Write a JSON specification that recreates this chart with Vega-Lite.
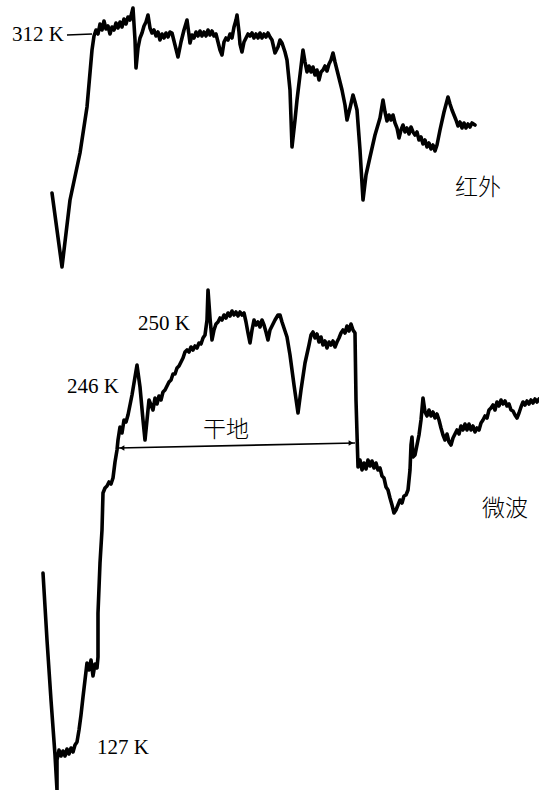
{
  "$schema": "https://vega.github.io/schema/vega-lite/v6.json",
  "width": 539,
  "height": 790,
  "padding": 0,
  "autosize": {"type": "fit", "contains": "padding"},
  "background": "white",
  "config": {"view": {"stroke": null}},
  "datasets": {
    "ir": [
      {"x":52,"y":193},{"x":62,"y":267},{"x":70,"y":200},{"x":80,"y":153},{"x":87,"y":107},{"x":92,"y":50},{"x":94,"y":36},{"x":96,"y":30},{"x":98,"y":34},{"x":100,"y":24},{"x":102,"y":30},{"x":104,"y":21},{"x":106,"y":29},{"x":108,"y":26},{"x":110,"y":34},{"x":112,"y":27},{"x":114,"y":30},{"x":116,"y":23},{"x":118,"y":28},{"x":120,"y":22},{"x":122,"y":27},{"x":124,"y":19},{"x":126,"y":24},{"x":128,"y":17},{"x":130,"y":20},{"x":132,"y":12},{"x":133,"y":8},{"x":135,"y":40},{"x":136,"y":68},{"x":138,"y":48},{"x":140,"y":38},{"x":142,"y":33},{"x":144,"y":26},{"x":146,"y":22},{"x":148,"y":15},{"x":150,"y":28},{"x":152,"y":33},{"x":154,"y":30},{"x":156,"y":36},{"x":158,"y":32},{"x":160,"y":40},{"x":162,"y":34},{"x":164,"y":38},{"x":166,"y":33},{"x":168,"y":37},{"x":170,"y":32},{"x":172,"y":33},{"x":175,"y":45},{"x":178,"y":57},{"x":181,"y":42},{"x":184,"y":30},{"x":187,"y":20},{"x":189,"y":35},{"x":190,"y":43},{"x":192,"y":35},{"x":194,"y":38},{"x":196,"y":32},{"x":198,"y":36},{"x":200,"y":31},{"x":202,"y":36},{"x":204,"y":32},{"x":206,"y":36},{"x":208,"y":30},{"x":210,"y":35},{"x":212,"y":31},{"x":214,"y":36},{"x":216,"y":34},{"x":218,"y":42},{"x":220,"y":50},{"x":222,"y":55},{"x":224,"y":42},{"x":226,"y":38},{"x":228,"y":40},{"x":230,"y":34},{"x":232,"y":38},{"x":234,"y":27},{"x":236,"y":20},{"x":237,"y":15},{"x":239,"y":32},{"x":240,"y":44},{"x":242,"y":52},{"x":244,"y":42},{"x":246,"y":38},{"x":248,"y":34},{"x":250,"y":36},{"x":252,"y":33},{"x":254,"y":38},{"x":256,"y":34},{"x":258,"y":38},{"x":260,"y":33},{"x":262,"y":38},{"x":264,"y":34},{"x":266,"y":37},{"x":268,"y":33},{"x":270,"y":37},{"x":272,"y":40},{"x":275,"y":53},{"x":278,"y":47},{"x":280,"y":40},{"x":282,"y":43},{"x":285,"y":52},{"x":287,"y":60},{"x":290,"y":90},{"x":292,"y":147},{"x":295,"y":120},{"x":297,"y":100},{"x":300,"y":75},{"x":303,"y":50},{"x":305,"y":62},{"x":307,"y":72},{"x":309,"y":66},{"x":311,"y":72},{"x":313,"y":67},{"x":315,"y":75},{"x":317,"y":70},{"x":319,"y":80},{"x":321,"y":72},{"x":323,"y":70},{"x":325,"y":66},{"x":327,"y":71},{"x":329,"y":64},{"x":331,"y":60},{"x":333,"y":53},{"x":335,"y":62},{"x":337,"y":70},{"x":340,"y":82},{"x":342,"y":90},{"x":345,"y":105},{"x":347,"y":120},{"x":350,"y":108},{"x":353,"y":95},{"x":355,"y":102},{"x":357,"y":110},{"x":360,"y":150},{"x":363,"y":200},{"x":366,"y":175},{"x":370,"y":157},{"x":375,"y":135},{"x":380,"y":118},{"x":383,"y":100},{"x":385,"y":112},{"x":387,"y":121},{"x":389,"y":115},{"x":391,"y":120},{"x":393,"y":115},{"x":395,"y":123},{"x":397,"y":128},{"x":399,"y":138},{"x":401,"y":130},{"x":403,"y":125},{"x":405,"y":132},{"x":407,"y":128},{"x":409,"y":134},{"x":411,"y":127},{"x":413,"y":132},{"x":415,"y":135},{"x":417,"y":132},{"x":419,"y":140},{"x":421,"y":137},{"x":423,"y":144},{"x":425,"y":140},{"x":427,"y":147},{"x":429,"y":143},{"x":431,"y":149},{"x":433,"y":145},{"x":435,"y":151},{"x":437,"y":145},{"x":440,"y":130},{"x":444,"y":112},{"x":448,"y":97},{"x":450,"y":104},{"x":452,"y":110},{"x":454,"y":115},{"x":456,"y":120},{"x":458,"y":126},{"x":460,"y":122},{"x":462,"y":128},{"x":464,"y":123},{"x":466,"y":128},{"x":468,"y":124},{"x":470,"y":127},{"x":472,"y":123},{"x":475,"y":125}
    ],
    "mw": [
      {"x":43,"y":573},{"x":47,"y":640},{"x":51,"y":700},{"x":55,"y":755},{"x":57,"y":790},{"x":57,"y":760},{"x":59,"y":750},{"x":61,"y":756},{"x":63,"y":751},{"x":65,"y":756},{"x":67,"y":749},{"x":69,"y":754},{"x":71,"y":748},{"x":73,"y":752},{"x":75,"y":745},{"x":77,"y":742},{"x":79,"y":730},{"x":81,"y":715},{"x":83,"y":697},{"x":85,"y":680},{"x":87,"y":663},{"x":89,"y":670},{"x":91,"y":660},{"x":93,"y":676},{"x":95,"y":664},{"x":97,"y":668},{"x":98,"y":657},{"x":98,"y":613},{"x":100,"y":563},{"x":102,"y":530},{"x":103,"y":493},{"x":105,"y":488},{"x":107,"y":486},{"x":109,"y":482},{"x":111,"y":484},{"x":113,"y":478},{"x":115,"y":462},{"x":117,"y":450},{"x":118,"y":440},{"x":120,"y":427},{"x":122,"y":433},{"x":124,"y":420},{"x":126,"y":422},{"x":128,"y":415},{"x":132,"y":395},{"x":137,"y":365},{"x":140,"y":387},{"x":143,"y":420},{"x":145,"y":440},{"x":147,"y":420},{"x":149,"y":400},{"x":151,"y":405},{"x":153,"y":410},{"x":155,"y":398},{"x":157,"y":404},{"x":159,"y":396},{"x":161,"y":400},{"x":163,"y":392},{"x":165,"y":390},{"x":167,"y":386},{"x":169,"y":382},{"x":171,"y":380},{"x":173,"y":374},{"x":175,"y":374},{"x":177,"y":368},{"x":179,"y":366},{"x":181,"y":362},{"x":183,"y":358},{"x":185,"y":352},{"x":187,"y":350},{"x":189,"y":352},{"x":191,"y":347},{"x":193,"y":350},{"x":195,"y":346},{"x":197,"y":348},{"x":199,"y":343},{"x":201,"y":344},{"x":203,"y":338},{"x":205,"y":335},{"x":207,"y":320},{"x":208,"y":290},{"x":210,"y":318},{"x":212,"y":340},{"x":214,"y":330},{"x":216,"y":324},{"x":218,"y":322},{"x":220,"y":318},{"x":222,"y":320},{"x":224,"y":315},{"x":226,"y":318},{"x":228,"y":313},{"x":230,"y":316},{"x":232,"y":311},{"x":234,"y":315},{"x":236,"y":312},{"x":238,"y":316},{"x":240,"y":312},{"x":242,"y":315},{"x":244,"y":313},{"x":246,"y":322},{"x":248,"y":333},{"x":250,"y":343},{"x":252,"y":330},{"x":254,"y":320},{"x":256,"y":325},{"x":258,"y":322},{"x":260,"y":327},{"x":262,"y":320},{"x":264,"y":325},{"x":266,"y":332},{"x":268,"y":340},{"x":270,"y":330},{"x":272,"y":326},{"x":275,"y":320},{"x":278,"y":315},{"x":280,"y":315},{"x":282,"y":322},{"x":284,"y":328},{"x":287,"y":337},{"x":290,"y":355},{"x":294,"y":385},{"x":298,"y":413},{"x":301,"y":390},{"x":305,"y":363},{"x":309,"y":345},{"x":311,"y":335},{"x":313,"y":332},{"x":315,"y":338},{"x":317,"y":334},{"x":319,"y":342},{"x":321,"y":337},{"x":323,"y":345},{"x":325,"y":341},{"x":327,"y":348},{"x":329,"y":342},{"x":331,"y":345},{"x":333,"y":341},{"x":335,"y":347},{"x":337,"y":342},{"x":339,"y":338},{"x":341,"y":333},{"x":343,"y":330},{"x":345,"y":333},{"x":347,"y":326},{"x":349,"y":331},{"x":351,"y":324},{"x":353,"y":330},{"x":355,"y":333},{"x":356,"y":400},{"x":358,"y":467},{"x":360,"y":460},{"x":362,"y":470},{"x":364,"y":463},{"x":366,"y":469},{"x":368,"y":460},{"x":370,"y":466},{"x":372,"y":461},{"x":374,"y":468},{"x":376,"y":463},{"x":378,"y":470},{"x":380,"y":468},{"x":382,"y":476},{"x":384,"y":478},{"x":386,"y":487},{"x":388,"y":490},{"x":390,"y":498},{"x":392,"y":505},{"x":394,"y":513},{"x":396,"y":510},{"x":398,"y":505},{"x":400,"y":500},{"x":402,"y":503},{"x":404,"y":496},{"x":406,"y":495},{"x":408,"y":490},{"x":410,"y":470},{"x":411,"y":445},{"x":412,"y":437},{"x":413,"y":457},{"x":415,"y":455},{"x":417,"y":445},{"x":419,"y":435},{"x":421,"y":420},{"x":423,"y":398},{"x":425,"y":412},{"x":427,"y":416},{"x":429,"y":410},{"x":431,"y":416},{"x":433,"y":412},{"x":435,"y":418},{"x":437,"y":414},{"x":439,"y":420},{"x":441,"y":428},{"x":443,"y":435},{"x":445,"y":440},{"x":447,"y":434},{"x":449,"y":442},{"x":451,"y":445},{"x":453,"y":438},{"x":455,"y":434},{"x":457,"y":430},{"x":459,"y":434},{"x":461,"y":426},{"x":463,"y":430},{"x":465,"y":424},{"x":467,"y":430},{"x":469,"y":424},{"x":471,"y":430},{"x":473,"y":426},{"x":475,"y":432},{"x":477,"y":428},{"x":479,"y":430},{"x":481,"y":423},{"x":483,"y":420},{"x":485,"y":416},{"x":487,"y":418},{"x":489,"y":410},{"x":491,"y":408},{"x":493,"y":405},{"x":495,"y":410},{"x":497,"y":402},{"x":499,"y":406},{"x":501,"y":400},{"x":503,"y":404},{"x":505,"y":401},{"x":507,"y":406},{"x":509,"y":404},{"x":511,"y":410},{"x":513,"y":411},{"x":515,"y":415},{"x":517,"y":418},{"x":519,"y":413},{"x":521,"y":407},{"x":523,"y":402},{"x":525,"y":405},{"x":527,"y":401},{"x":529,"y":404},{"x":531,"y":400},{"x":533,"y":403},{"x":535,"y":399},{"x":537,"y":402},{"x":539,"y":399}
    ],
    "serifLabels": [
      {"t":"312 K","x":12,"y":41},
      {"t":"250 K","x":138,"y":330},
      {"t":"246 K","x":67,"y":393},
      {"t":"127 K","x":97,"y":754}
    ],
    "cjkLabels": [
      {"t":"红外","x":455,"y":188},
      {"t":"干地","x":203,"y":430},
      {"t":"微波","x":482,"y":509}
    ],
    "rules": [
      {"x":67,"y":35,"x2":92,"y2":34},
      {"x":118,"y":448,"x2":355,"y2":443}
    ],
    "arrows": [
      {"x":122,"y":448,"s":"triangle-left"},
      {"x":351,"y":443,"s":"triangle-right"}
    ]
  },
  "encoding": {
    "x": {"field":"x","type":"quantitative","scale":{"domain":[0,539],"nice":false,"zero":false},"axis":null},
    "y": {"field":"y","type":"quantitative","scale":{"domain":[0,790],"nice":false,"zero":false,"reverse":true},"axis":null}
  },
  "layer": [
    {
      "data": {"name":"ir"},
      "transform": [{"window":[{"op":"row_number","as":"i"}]}],
      "mark": {"type":"line","color":"black","strokeWidth":3.6,"strokeJoin":"round","strokeCap":"round","clip":true},
      "encoding": {"order":{"field":"i","type":"quantitative"}}
    },
    {
      "data": {"name":"mw"},
      "transform": [{"window":[{"op":"row_number","as":"i"}]}],
      "mark": {"type":"line","color":"black","strokeWidth":3.6,"strokeJoin":"round","strokeCap":"round","clip":true},
      "encoding": {"order":{"field":"i","type":"quantitative"}}
    },
    {
      "data": {"name":"rules"},
      "mark": {"type":"rule","color":"black","strokeWidth":1.6},
      "encoding": {
        "x2": {"field":"x2"},
        "y2": {"field":"y2"}
      }
    },
    {
      "data": {"name":"arrows"},
      "mark": {"type":"point","filled":true,"color":"black","size":30,"opacity":1},
      "encoding": {"shape":{"field":"s","type":"nominal","scale":null}}
    },
    {
      "data": {"name":"serifLabels"},
      "mark": {"type":"text","font":"Liberation Serif","fontSize":21,"align":"left","baseline":"alphabetic","color":"black"},
      "encoding": {"text":{"field":"t"}}
    },
    {
      "data": {"name":"cjkLabels"},
      "mark": {"type":"text","font":"Noto Sans CJK SC","fontSize":23,"fontWeight":300,"align":"left","baseline":"middle","color":"black"},
      "encoding": {"text":{"field":"t"}}
    }
  ]
}
